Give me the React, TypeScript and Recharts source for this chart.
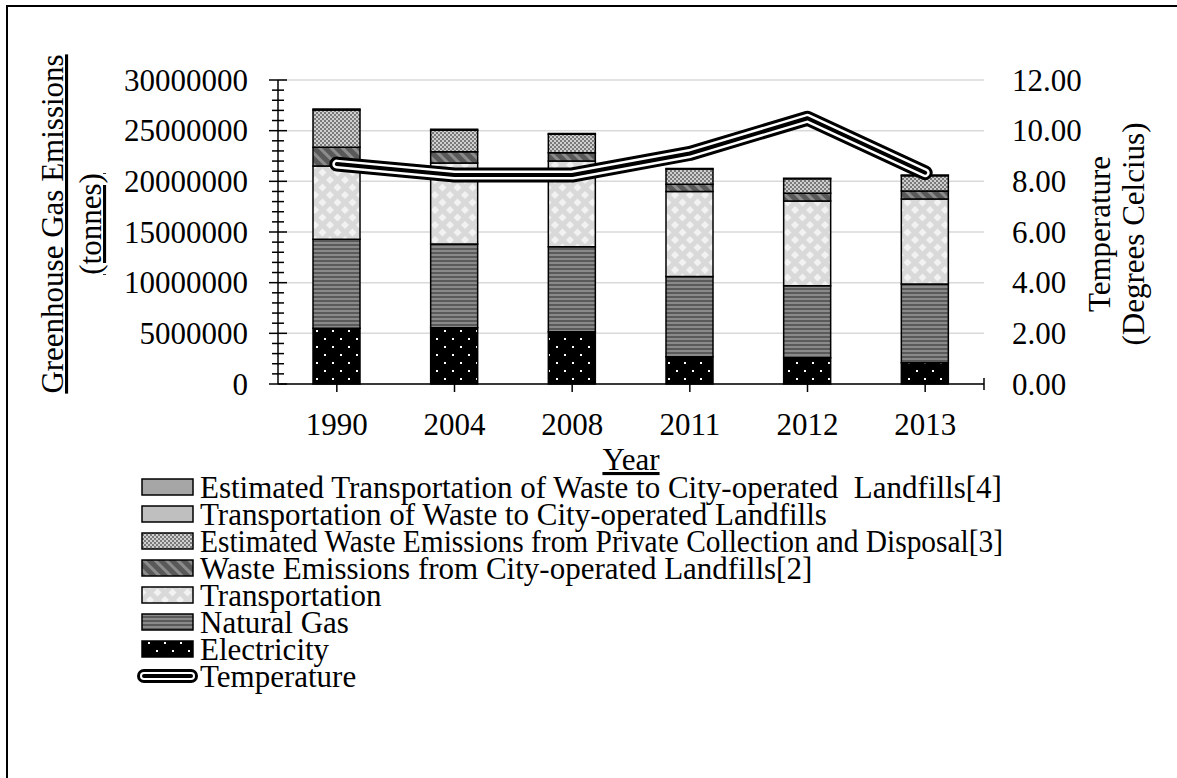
import React from 'react';
import { ComposedChart, Bar, Line, XAxis, YAxis, CartesianGrid } from 'recharts';

const years = ['1990', '2004', '2008', '2011', '2012', '2013'];
const electricity = [5500000, 5560000, 5160000, 2700000, 2600000, 2100000];
const naturalGas = [8780000, 8260000, 8390000, 7900000, 7100000, 7770000];
const transportation = [7240000, 8000000, 8450000, 8390000, 8360000, 8390000];
const wasteLandfills = [1850000, 1090000, 830000, 720000, 760000, 790000];
const estPrivateWaste = [3680000, 2140000, 1810000, 1500000, 1430000, 1510000];
const wasteTransport = [0, 80000, 80000, 60000, 60000, 60000];
const estWasteTransport = [100000, 0, 0, 0, 0, 0];
const temperature = [8.68, 8.25, 8.25, 9.1, 10.49, 8.34];

const leftMajorTicks = [0, 5000000, 10000000, 15000000, 20000000, 25000000, 30000000];
const leftTicks = Array.from({ length: 31 }, (_, i) => i * 1000000);
const rightTicks = [0, 2, 4, 6, 8, 10, 12];

const FONT = '"Liberation Serif", "Times New Roman", serif';
const FS = 31;

const data = years.map((year, i) => ({
  year,
  electricity: electricity[i],
  naturalGas: naturalGas[i],
  transportation: transportation[i],
  wasteLandfills: wasteLandfills[i],
  estPrivateWaste: estPrivateWaste[i],
  wasteTransport: wasteTransport[i],
  estWasteTransport: estWasteTransport[i],
  temperature: temperature[i],
}));

const series = [
  { key: 'electricity', name: 'Electricity', fill: 'url(#pElec)' },
  { key: 'naturalGas', name: 'Natural Gas', fill: 'url(#pGas)' },
  { key: 'transportation', name: 'Transportation', fill: 'url(#pTrans)' },
  { key: 'wasteLandfills', name: 'Waste Emissions from City-operated Landfills[2]', fill: 'url(#pWaste)' },
  { key: 'estPrivateWaste', name: 'Estimated Waste Emissions from Private Collection and Disposal[3]', fill: 'url(#pChecker)', fit: 803 },
  { key: 'wasteTransport', name: 'Transportation of Waste to City-operated Landfills', fill: '#bfbfbf' },
  { key: 'estWasteTransport', name: 'Estimated Transportation of Waste to City-operated  Landfills[4]', fill: '#a6a6a6' },
];

// legend shows the stack top first, then the temperature line
const legendItems = [...series].reverse();

const LeftTick = (props: any) => {
  const { x, y, payload } = props;
  const major = leftMajorTicks.includes(payload.value);
  const len = major ? 9 : 6;
  return (
    <g>
      <line x1={x - len} x2={x + len} y1={y} y2={y} stroke="#000" strokeWidth={1.5} />
      {major && (
        <text x={x - 30} y={y} dy="0.34em" textAnchor="end" fontFamily={FONT} fontSize={FS} fill="#000">
          {payload.value}
        </text>
      )}
    </g>
  );
};

const RightTick = (props: any) => {
  const { x, y, payload } = props;
  return (
    <g>
      {payload.value === 0 && <line x1={x - 28} x2={x - 28} y1={y - 6} y2={y + 6} stroke="#000" strokeWidth={1.5} />}
      <text x={x} y={y} dy="0.34em" textAnchor="start" fontFamily={FONT} fontSize={FS} fill="#000">
        {Number(payload.value).toFixed(2)}
      </text>
    </g>
  );
};

export default function App() {
  const rowY = (i: number) => 487 + i * 27;
  return (
    <div style={{ position: 'absolute', left: 0, top: 0, width: 1177, height: 778, overflow: 'hidden', background: '#fff' }}>
      <div style={{ position: 'absolute', left: 6, top: 5, width: 1400, height: 1000, borderTop: '2px solid #000', borderLeft: '2px solid #000' }} />
      <svg width={0} height={0} style={{ position: 'absolute' }}>
        <defs>
          <pattern id="pElec" patternUnits="userSpaceOnUse" width={16} height={16}>
            <rect width={16} height={16} fill="#000" />
            <rect x={4} y={2} width={2} height={2} fill="#fff" />
            <rect x={12} y={10} width={2} height={2} fill="#fff" />
          </pattern>
          <pattern id="pGas" patternUnits="userSpaceOnUse" width={4} height={4}>
            <rect width={4} height={4} fill="#8a8a8a" />
            <rect width={4} height={2} fill="#5a5a5a" />
          </pattern>
          <pattern id="pTrans" patternUnits="userSpaceOnUse" width={15} height={15}>
            <rect width={15} height={15} fill="#d9d9d9" />
            <polygon points="7.5,3.5 11.5,7.5 7.5,11.5 3.5,7.5" fill="#f2f2f2" />
            <polygon points="0,0 4,0 0,4" fill="#f2f2f2" />
            <polygon points="15,0 11,0 15,4" fill="#f2f2f2" />
            <polygon points="0,15 4,15 0,11" fill="#f2f2f2" />
            <polygon points="15,15 11,15 15,11" fill="#f2f2f2" />
          </pattern>
          <pattern id="pWaste" patternUnits="userSpaceOnUse" width={8} height={8} patternTransform="rotate(-45)">
            <rect width={8} height={8} fill="#595959" />
            <rect width={3} height={8} fill="#8c8c8c" />
          </pattern>
          <pattern id="pChecker" patternUnits="userSpaceOnUse" width={4} height={4}>
            <rect width={4} height={4} fill="#cfcfcf" />
            <rect width={2} height={2} fill="#7a7a7a" />
            <rect x={2} y={2} width={2} height={2} fill="#7a7a7a" />
          </pattern>
        </defs>
      </svg>

      <ComposedChart width={1177} height={470} data={data} margin={{ top: 80, right: 0, bottom: 0, left: 0 }}>
        <CartesianGrid yAxisId="right" vertical={false} stroke="#d9d9d9" strokeWidth={1.5} />
        <XAxis
          dataKey="year"
          height={86}
          tickSize={8}
          tickMargin={21}
          stroke="#000"
          strokeWidth={1.5}
          tick={{ fill: '#000', fontSize: FS, fontFamily: FONT }}
          tickLine={{ stroke: '#000', strokeWidth: 1.5 }}
        />
        <YAxis
          yAxisId="left"
          width={278}
          domain={[0, 30000000]}
          ticks={leftTicks}
          interval={0}
          tickSize={0}
          tickMargin={0}
          tickLine={false}
          axisLine={{ stroke: '#000', strokeWidth: 1.5 }}
          tick={<LeftTick />}
        />
        <YAxis
          yAxisId="right"
          orientation="right"
          width={193}
          domain={[0, 12]}
          ticks={rightTicks}
          interval={0}
          tickSize={0}
          tickMargin={28}
          tickLine={false}
          axisLine={false}
          tick={<RightTick />}
        />
        {series.map((s) => (
          <Bar
            key={s.key}
            yAxisId="left"
            dataKey={s.key}
            name={s.name}
            stackId="ghg"
            barSize={47}
            fill={s.fill}
            stroke="#000"
            strokeWidth={1.5}
            isAnimationActive={false}
          />
        ))}
        <Line yAxisId="right" dataKey="temperature" stroke="#000" strokeWidth={15} strokeLinecap="round" strokeLinejoin="round" dot={false} activeDot={false} isAnimationActive={false} />
        <Line yAxisId="right" dataKey="temperature" stroke="#fff" strokeWidth={9} strokeLinecap="round" strokeLinejoin="round" dot={false} activeDot={false} isAnimationActive={false} legendType="none" />
        <Line yAxisId="right" dataKey="temperature" stroke="#000" strokeWidth={4} strokeLinecap="round" strokeLinejoin="round" dot={false} activeDot={false} isAnimationActive={false} legendType="none" />
      </ComposedChart>

      <svg width={1177} height={778} style={{ position: 'absolute', left: 0, top: 0, pointerEvents: 'none' }} fontFamily={FONT} fontSize={FS} fill="#000">
        <text x={63} y={224} transform="rotate(-90 63 224)" textAnchor="middle" textDecoration="underline">Greenhouse Gas Emissions</text>
        <text x={101} y={224} transform="rotate(-90 101 224)" textAnchor="middle" textDecoration="underline">(tonnes)</text>
        <text x={1110} y={234} transform="rotate(-90 1110 234)" textAnchor="middle">Temperature</text>
        <text x={1144} y={234} transform="rotate(-90 1144 234)" textAnchor="middle">(Degrees Celcius)</text>
        <text x={631} y={470} textAnchor="middle" textDecoration="underline">Year</text>

        {legendItems.map((s, i) => (
          <g key={s.key}>
            <rect x={142} y={rowY(i) - 8} width={51} height={16} fill={s.fill} stroke="#000" strokeWidth={1.5} />
            <text
              x={200}
              y={rowY(i) + 10.5}
              style={{ whiteSpace: 'pre' }}
              textLength={s.fit}
              lengthAdjust={s.fit ? 'spacingAndGlyphs' : undefined}
            >
              {s.name}
            </text>
          </g>
        ))}
        <g>
          <line x1={144} x2={191} y1={rowY(7)} y2={rowY(7)} stroke="#000" strokeWidth={14} strokeLinecap="round" />
          <line x1={144} x2={191} y1={rowY(7)} y2={rowY(7)} stroke="#fff" strokeWidth={8} strokeLinecap="round" />
          <line x1={144} x2={191} y1={rowY(7)} y2={rowY(7)} stroke="#000" strokeWidth={4} strokeLinecap="round" />
          <text x={200} y={rowY(7) + 10.5}>Temperature</text>
        </g>
      </svg>
    </div>
  );
}
